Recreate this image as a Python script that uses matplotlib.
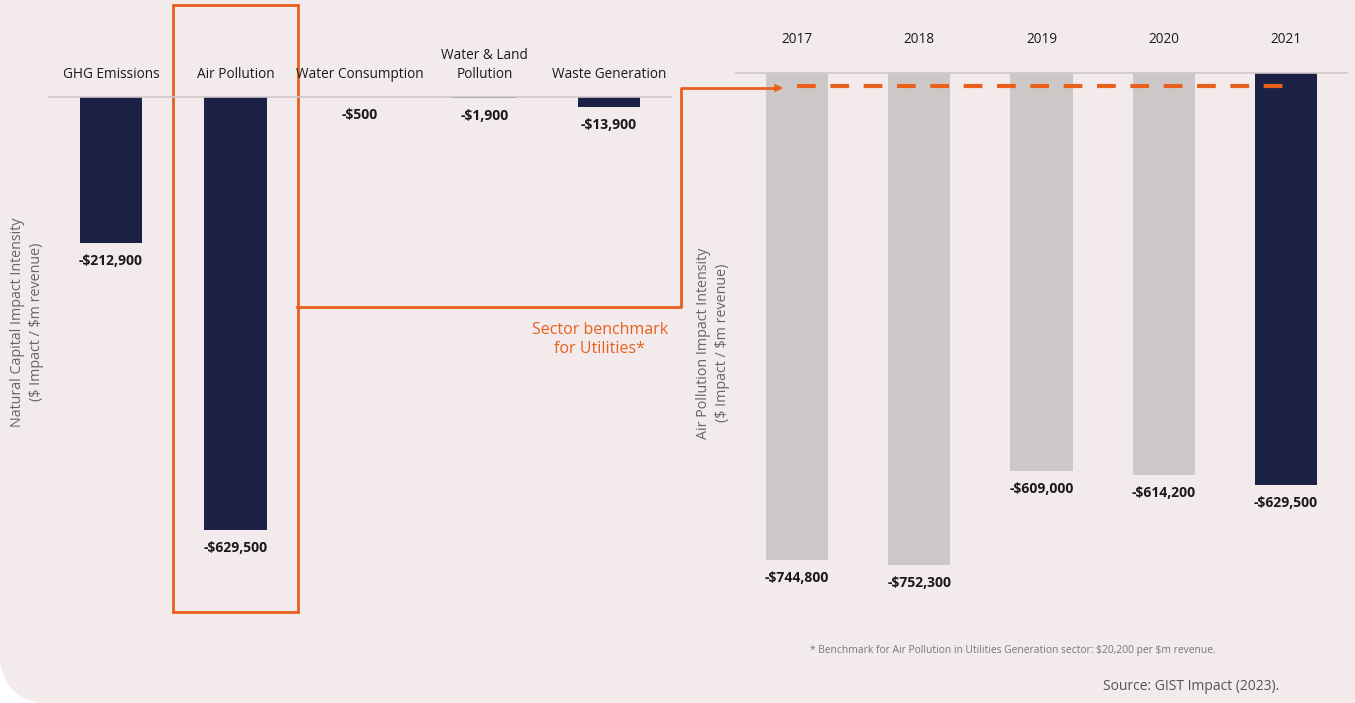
import matplotlib.pyplot as plt
from matplotlib.patches import Rectangle, Polygon, FancyArrowPatch
from matplotlib.lines import Line2D
import numpy as np

# Data
categories = ['GHG Emissions', 'Air Pollution', 'Water Consumption', 'Water & Land\nPollution', 'Waste Generation']
impact_values = [-212900, -629500, -500, -1900, -13900]
impact_labels = ['-$212,900', '-$629,500', '-$500', '-$1,900', '-$13,900']

years = ['2017', '2018', '2019', '2020', '2021']
air_values = [-744800, -752300, -609000, -614200, -629500]
air_labels = ['-$744,800', '-$752,300', '-$609,000', '-$614,200', '-$629,500']
benchmark = -20200

# Colours
BG = '#f3eaeb'
NAVY = '#1b2245'
GREY_BAR = '#cdc8c8'
ORANGE = '#e8601c'
ZERO = '#cfc7c8'
TXT = '#1a1a1a'
AXTXT = '#666666'

plt.rcParams['font.family'] = ['Open Sans', 'DejaVu Sans']

W, H = 1355, 703
fig = plt.figure(figsize=(W / 100, H / 100), dpi=100, facecolor=BG)


def fx(x):
    return x / W


def fy(y):
    return 1 - y / H


# rounded bottom-left corner
r = 45
theta = np.linspace(np.pi, 1.5 * np.pi, 30)
arc = [(fx(r + r * np.cos(t)), fy(H - r - r * np.sin(t))) for t in theta]
corner = [(0, 0), (fx(0), fy(H - r))] + arc + [(fx(r), 0)]
fig.add_artist(Polygon(corner, closed=True, transform=fig.transFigure, facecolor='white', edgecolor='none'))

# Left panel
ax1 = fig.add_axes([fx(48.75), fy(647), fx(622.5), 550 / H])
ax1.set_facecolor('none')
x1 = np.arange(len(categories))
ax1.bar(x1, impact_values, width=0.5, color=NAVY)
ax1.set_xlim(-0.5, 4.5)
ax1.set_ylim(-800000, 0)
ax1.axhline(0, color=ZERO, lw=1.2, clip_on=False)
for xi, v, lab, cat in zip(x1, impact_values, impact_labels, categories):
    ax1.annotate(lab, (xi, v), xytext=(0, -8), textcoords='offset points',
                 ha='center', va='top', fontsize=10, fontweight='bold', color=TXT,
                 parse_math=False)
    ax1.annotate(cat, (xi, 0), xytext=(0, 11), textcoords='offset points',
                 ha='center', va='bottom', fontsize=9.8, color=TXT, linespacing=1.35,
                 annotation_clip=False)
ax1.axis('off')

# highlight box around Air Pollution
ax1.add_patch(Rectangle((0.5, -749000), 1.0, 882800, fill=False, edgecolor=ORANGE,
                        lw=2, clip_on=False))

# Right panel
ax2 = fig.add_axes([fx(736), fy(596), fx(611), 523 / H])
ax2.set_facecolor('none')
x2 = np.arange(len(years))
bar_colors = [GREY_BAR] * (len(years) - 1) + [NAVY]
ax2.bar(x2, air_values, width=0.51, color=bar_colors)
ax2.set_xlim(-0.5, 4.5)
ax2.set_ylim(-800000, 0)
ax2.axhline(0, color=ZERO, lw=1.2, clip_on=False)
for xi, v, lab, yr in zip(x2, air_values, air_labels, years):
    ax2.annotate(lab, (xi, v), xytext=(0, -8), textcoords='offset points',
                 ha='center', va='top', fontsize=10, fontweight='bold', color=TXT,
                 parse_math=False)
    ax2.annotate(yr, (xi, 0), xytext=(0, 19), textcoords='offset points',
                 ha='center', va='bottom', fontsize=9.8, color=TXT, annotation_clip=False)
ax2.plot([0, 4], [benchmark, benchmark], color=ORANGE, lw=3, dashes=(4.5, 3.5))
ax2.axis('off')

# connector from box to benchmark line
conn = Line2D([fx(297), fx(681), fx(681), fx(775)], [fy(307), fy(307), fy(88), fy(88)],
              transform=fig.transFigure, color=ORANGE, lw=2)
fig.add_artist(conn)
fig.add_artist(FancyArrowPatch((fx(768), fy(88)), (fx(786), fy(88)), transform=fig.transFigure,
                               arrowstyle='-|>', mutation_scale=16, color=ORANGE, lw=0))
fig.text(fx(600), fy(339), 'Sector benchmark\nfor Utilities*', ha='center', va='center',
         fontsize=11.5, color=ORANGE, linespacing=1.25)

# axis titles
fig.text(fx(27), fy(322), 'Natural Capital Impact Intensity\n($ Impact / $m revenue)',
         rotation=90, ha='center', va='center', fontsize=10.3, color=AXTXT,
         linespacing=1.45, parse_math=False)
fig.text(fx(713), fy(343), 'Air Pollution Impact Intensity\n($ Impact / $m revenue)',
         rotation=90, ha='center', va='center', fontsize=10.3, color=AXTXT,
         linespacing=1.45, parse_math=False)

# footnotes
fig.text(fx(810), fy(650), '* Benchmark for Air Pollution in Utilities Generation sector: $20,200 per $m revenue.',
         ha='left', va='center', fontsize=7.4, color='#777777', parse_math=False)
fig.text(fx(1279), fy(686), 'Source: GIST Impact (2023).', ha='right', va='center',
         fontsize=10, color='#555555')

fig.savefig('out.png', dpi=100, facecolor=BG)
